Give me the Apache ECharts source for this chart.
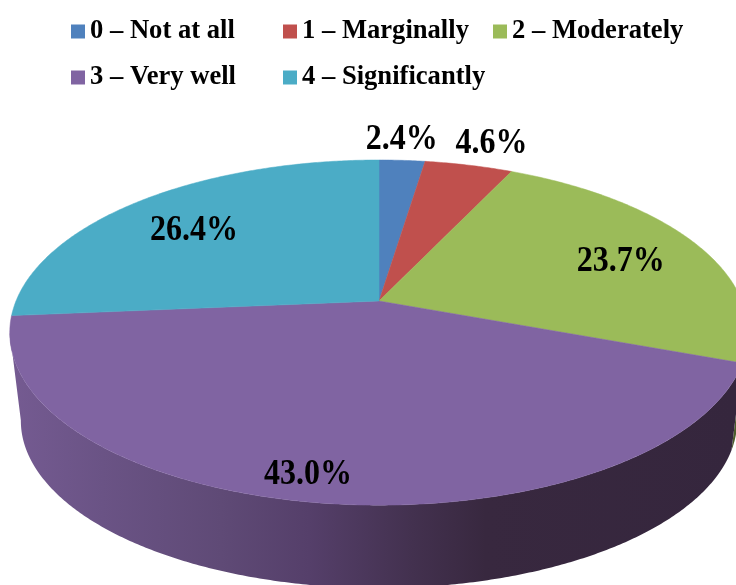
<!DOCTYPE html>
<html>
<head>
<meta charset="utf-8">
<style>html,body{margin:0;padding:0;background:#fff}#c{width:736px;height:585px}</style>
<script src="https://cdn.jsdelivr.net/npm/echarts@6/dist/echarts.min.js"></script>
</head>
<body>
<div id="c"></div>
<script>
const categories = ['0 – Not at all', '1 – Marginally', '2 – Moderately', '3 – Very well', '4 – Significantly'];
const shares = [2.4, 4.6, 23.7, 43.0, 26.4];
const topColors = ['#4f81bd', '#c0504d', '#9bbb59', '#8064a2', '#4bacc6'];
const sideColors = ['#2f4d71', '#73302e', '#4d5d2c', '#5f4a78', '#2d6776'];
const labelRadius = [1.21, 1.23, 0.747, 0.876, 0.735];
const labelTurn = [-0.7, 0.9, 1.4, 3.1, -1.5];
const legendLeft = [71, 283, 493, 71, 283];
const legendTop = [18, 18, 18, 64, 64];

const FONT = '"Liberation Serif", "Times New Roman", serif';
const view = { cx: 379, cy: 301, rx: 363, ry: 166.8, k: -0.183, scale: 0.97, depth: 89, edgeRight: 100.4, edgeLeft: 259.6 };
const total = shares.reduce((a, b) => a + b, 0);

function project(deg, r, s, dy) {
  const t = deg * Math.PI / 180;
  const x = r * Math.sin(t), y = -r * Math.cos(t);
  const w = 1 + view.k * y;
  return [view.cx + s * view.rx * x / w, view.cy + dy + s * view.ry * y / w];
}
function arc(a, b, s, dy) {
  const pts = [], n = Math.max(2, Math.ceil(Math.abs(b - a) * 2));
  for (let i = 0; i <= n; i++) pts.push(project(a + (b - a) * i / n, 1, s, dy));
  return pts;
}
function sideFill(i) {
  if (i !== 3) return sideColors[i];
  return new echarts.graphic.LinearGradient(0, 0, 736, 0, [
    { offset: 0.01, color: '#755b92' },
    { offset: 0.14, color: '#6a5385' },
    { offset: 0.30, color: '#5f4a76' },
    { offset: 0.42, color: '#553f6a' },
    { offset: 0.56, color: '#43314f' },
    { offset: 0.66, color: '#38283f' },
    { offset: 1, color: '#35263d' }
  ], true);
}
function renderSlice(params, api) {
  const i = params.seriesIndex;
  const before = shares.slice(0, i).reduce((a, b) => a + b, 0);
  const a0 = before / total * 360, a1 = (before + api.value(0)) / total * 360;
  const children = [];
  const v0 = Math.max(a0, view.edgeRight), v1 = Math.min(a1, view.edgeLeft);
  if (v1 > v0) {
    children.push({
      type: 'polygon',
      z2: 1,
      shape: { points: arc(v0, v1, 1, 0).concat(arc(v1, v0, view.scale, view.depth)) },
      style: { fill: sideFill(i), stroke: null }
    });
  }
  const color = topColors[i];
  children.push({
    type: 'polygon',
    z2: 10,
    shape: { points: [[view.cx, view.cy]].concat(arc(a0, a1, 1, 0)) },
    style: { fill: color, stroke: color, lineWidth: 0.5 }
  });
  const p = project((a0 + a1) / 2 + labelTurn[i], labelRadius[i], 1, 0);
  children.push({
    type: 'text',
    z2: 100,
    x: p[0], y: p[1] + 3, scaleY: 1.15,
    style: {
      x: 0, y: 0, text: api.value(0).toFixed(1) + '%',
      fill: '#000', align: 'center', verticalAlign: 'middle',
      font: 'bold 32px ' + FONT
    }
  });
  return { type: 'group', children };
}

const chart = echarts.init(document.getElementById('c'), null, { renderer: 'canvas' });
chart.setOption({
  animation: false,
  backgroundColor: '#fff',
  legend: categories.map((name, i) => ({
    data: [name], left: legendLeft[i], top: legendTop[i], padding: 0,
    icon: 'rect', itemWidth: 14, itemHeight: 14, itemGap: 0, selectedMode: false,
    textStyle: { fontFamily: FONT, fontWeight: 'bold', fontSize: 26.6, color: '#000', padding: [0, 0, 0, 0] }
  })),
  series: categories.map((name, i) => ({
    type: 'custom', name, coordinateSystem: 'none', clip: false, silent: true,
    itemStyle: { color: topColors[i] },
    renderItem: renderSlice,
    data: [[shares[i]]]
  }))
});
</script>
</body>
</html>
